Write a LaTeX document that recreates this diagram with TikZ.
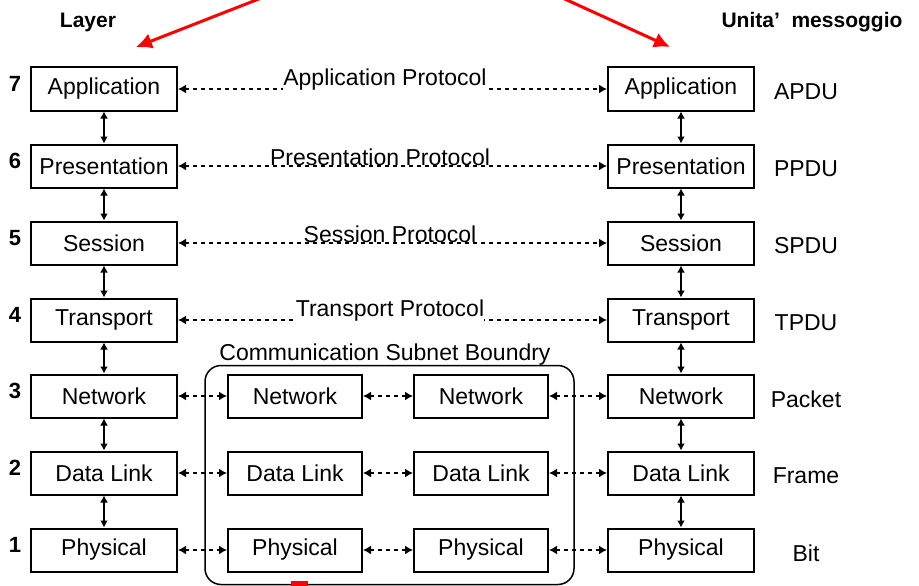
\documentclass[tikz,border=0pt]{standalone}
\usepackage{fontspec}
\setmainfont{Liberation Sans}
\usetikzlibrary{arrows.meta}
\begin{document}
\begin{tikzpicture}[x=1pt,y=-1pt,
  layerbox/.style={draw,line width=2pt,minimum width=146pt,minimum height=43pt,inner sep=0pt,font=\fontsize{23}{26}\selectfont},
  subbox/.style={layerbox,minimum width=134pt},
  lbl/.style={font=\fontsize{23}{26}\selectfont,inner sep=1pt},
  numlbl/.style={font=\bfseries\fontsize{22}{24}\selectfont,inner sep=0pt},
  headlbl/.style={font=\bfseries\fontsize{21}{24}\selectfont,inner sep=0pt},
  protolbl/.style={lbl,fill=white,inner sep=0pt},
  vlink/.style={line width=1.5pt,{Latex[length=7pt,width=8pt]}-{Latex[length=7pt,width=8pt]}},
  hlink/.style={line width=1.5pt,dash pattern=on 4pt off 4pt,{Latex[length=8pt,width=9pt]}-{Latex[length=8pt,width=9pt]}},
  redarrow/.style={red,line width=3pt,-{Latex[length=16pt,width=16pt]}},
  boundary/.style={draw,line width=1.5pt,rounded corners=16pt,minimum width=369pt,minimum height=219pt,inner sep=0pt},
]
\useasboundingbox (0,0) rectangle (919,586);

% headings
\node[headlbl] (layerhead) at (88,22) {Layer};
\node[headlbl] (unithead) at (812,22) {Unita'\ \ messoggio};

% red arrows
\coordinate (rs1) at (269,-5);
\coordinate (rt1) at (136,47);
\coordinate (rs2) at (556,-5);
\coordinate (rt2) at (670,47);
\draw[redarrow] (rs1) -- (rt1);
\draw[redarrow] (rs2) -- (rt2);

% boundary
\node[boundary] (subnet) at (389.5,475) {};
\node[lbl] (subnetlbl) at (385,355) {Communication Subnet Boundry};

% layers
\foreach \n/\t/\u/\y in {7/Application/APDU/89,6/Presentation/PPDU/166,5/Session/SPDU/243,4/Transport/TPDU/320,3/Network/Packet/396,2/Data Link/Frame/473,1/Physical/Bit/550} {
  \node[layerbox] (L\n) at (104,\y) {\t};
  \node[layerbox] (R\n) at (681,\y) {\t};
  \node[numlbl] (N\n) at (15,\y-5) {\n};
  \node[lbl] (U\n) at (806,\y+3) {\u};
}

% vertical links
\foreach \a/\b in {7/6,6/5,5/4,4/3,3/2,2/1} {
  \draw[vlink] (L\a) -- (L\b);
  \draw[vlink] (R\a) -- (R\b);
}

% peer protocols
\foreach \n in {7,6,5,4} {
  \draw[hlink] (L\n) -- (R\n);
}
\node[protolbl] (P7) at (385,80) {Application Protocol};
\node[protolbl] (P6) at (380,157) {Presentation Protocol};
\node[protolbl] (P5) at (390,234) {Session Protocol};
\node[protolbl] (P4) at (390,311) {Transport Protocol};

% subnet
\foreach \n/\t/\y in {3/Network/396,2/Data Link/473,1/Physical/550} {
  \node[subbox] (A\n) at (295,\y) {\t};
  \node[subbox] (B\n) at (481,\y) {\t};
  \draw[hlink] (L\n) -- (A\n);
  \draw[hlink] (A\n) -- (B\n);
  \draw[hlink] (B\n) -- (R\n);
}

% red mark at bottom
\fill[red] (291,581) rectangle (308,586);
\end{tikzpicture}
\end{document}
